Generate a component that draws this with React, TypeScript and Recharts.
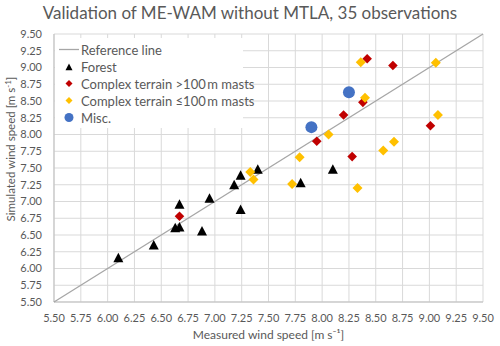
import { ScatterChart, Scatter, XAxis, YAxis, CartesianGrid, Legend, Label } from 'recharts';

type Pt = { x: number; y: number };

const ticks = [5.5, 5.75, 6, 6.25, 6.5, 6.75, 7, 7.25, 7.5, 7.75, 8, 8.25, 8.5, 8.75, 9, 9.25, 9.5];

const referenceLine: Pt[] = [
  { x: 5.5, y: 5.5 },
  { x: 9.5, y: 9.5 },
];

const forest: Pt[] = [
  { x: 6.1, y: 6.16 },
  { x: 6.43, y: 6.35 },
  { x: 6.63, y: 6.61 },
  { x: 6.67, y: 6.62 },
  { x: 6.67, y: 6.96 },
  { x: 6.88, y: 6.56 },
  { x: 6.95, y: 7.05 },
  { x: 7.18, y: 7.25 },
  { x: 7.24, y: 7.39 },
  { x: 7.24, y: 6.88 },
  { x: 7.4, y: 7.48 },
  { x: 7.8, y: 7.28 },
  { x: 8.1, y: 7.48 },
];

const tallMasts: Pt[] = [
  { x: 6.67, y: 6.78 },
  { x: 7.95, y: 7.9 },
  { x: 8.2, y: 8.29 },
  { x: 8.28, y: 7.67 },
  { x: 8.38, y: 8.48 },
  { x: 8.42, y: 9.13 },
  { x: 8.66, y: 9.03 },
  { x: 9.01, y: 8.13 },
];

const shortMasts: Pt[] = [
  { x: 7.33, y: 7.44 },
  { x: 7.36, y: 7.33 },
  { x: 7.72, y: 7.26 },
  { x: 7.79, y: 7.66 },
  { x: 8.06, y: 8.0 },
  { x: 8.33, y: 7.2 },
  { x: 8.36, y: 9.08 },
  { x: 8.4, y: 8.55 },
  { x: 8.57, y: 7.76 },
  { x: 8.67, y: 7.89 },
  { x: 9.06, y: 9.07 },
  { x: 9.08, y: 8.29 },
];

const misc: Pt[] = [
  { x: 7.9, y: 8.11 },
  { x: 8.25, y: 8.63 },
];

const FONT = 'Lato, "Open Sans", sans-serif';
const TEXT = '#595959';

const Triangle = ({ cx, cy, fill, s = 5 }: any) => (
  <polygon points={`${cx},${cy - s} ${cx + s},${cy + s * 0.9} ${cx - s},${cy + s * 0.9}`} fill={fill} />
);
const Diamond = ({ cx, cy, fill, s = 5 }: any) => (
  <polygon points={`${cx},${cy - s} ${cx + s},${cy} ${cx},${cy + s} ${cx - s},${cy}`} fill={fill} />
);
const Dot = ({ cx, cy, fill, s = 6 }: any) => <circle cx={cx} cy={cy} r={s} fill={fill} />;

const legendItems = [
  { label: 'Reference line', kind: 'line', color: '#a6a6a6' },
  { label: 'Forest', kind: 'triangle', color: '#000000' },
  { label: 'Complex terrain >100\u2009m masts', kind: 'diamond', color: '#c00000' },
  { label: 'Complex terrain \u2264100\u2009m masts', kind: 'diamond', color: '#ffc000' },
  { label: 'Misc.', kind: 'circle', color: '#4472c4' },
];

function LegendBox() {
  return (
    <div style={{ background: '#fff', padding: '3px 0 2px 0', fontFamily: FONT }}>
      {legendItems.map((it) => (
        <div key={it.label} style={{ display: 'flex', alignItems: 'center', height: 17 }}>
          <svg width={26} height={17} style={{ flex: 'none' }}>
            {it.kind === 'line' && <line x1={4} x2={24} y1={8.5} y2={8.5} stroke={it.color} strokeWidth={1.3} />}
            {it.kind === 'triangle' && <Triangle cx={14} cy={9} fill={it.color} s={3.5} />}
            {it.kind === 'diamond' && <Diamond cx={14} cy={8.5} fill={it.color} s={3.5} />}
            {it.kind === 'circle' && <Dot cx={14} cy={8.5} fill={it.color} s={4.5} />}
          </svg>
          <span style={{ fontSize: 13, color: TEXT, whiteSpace: 'nowrap' }}>{it.label}</span>
        </div>
      ))}
    </div>
  );
}

const YTitle = () => (
  <text
    transform="translate(15,149) rotate(-90)"
    textAnchor="middle"
    fill={TEXT}
    fontSize={11.5}
    fontFamily={FONT}
  >
    Simulated wind speed [m s<tspan fontSize={8} dy={-4}>-1</tspan>
    <tspan dy={4}>]</tspan>
  </text>
);

export default function App() {
  return (
    <div style={{ position: 'absolute', left: 0, top: 0, width: 500, height: 346, background: '#fff', fontFamily: FONT }}>
      <div
        style={{
          position: 'absolute',
          top: 2,
          left: 0,
          width: 500,
          textAlign: 'center',
          fontSize: 17,
          color: TEXT,
        }}
      >
        Validation of ME-WAM without MTLA, 35 observations
      </div>
      <ScatterChart width={500} height={346} margin={{ top: 34, right: 17, bottom: 22, left: 14 }}>
        <CartesianGrid stroke="#d9d9d9" strokeWidth={1} />
        <XAxis
          type="number"
          dataKey="x"
          domain={[5.5, 9.5]}
          ticks={ticks}
          interval={0}
          tickFormatter={(v: number) => v.toFixed(2)}
          tickLine={false}
          axisLine={{ stroke: '#bfbfbf' }}
          tick={{ fill: TEXT, fontSize: 11, fontFamily: FONT }}
          tickMargin={6}
          height={22}
          label={{
            value: 'Measured wind speed [m s\u207B\u00B9]',
            position: 'insideBottom',
            offset: -15,
            fill: TEXT,
            fontSize: 12,
            fontFamily: FONT,
          }}
        />
        <YAxis
          type="number"
          dataKey="y"
          domain={[5.5, 9.5]}
          ticks={ticks}
          interval={0}
          tickFormatter={(v: number) => v.toFixed(2)}
          tickLine={false}
          axisLine={{ stroke: '#bfbfbf' }}
          tick={{ fill: TEXT, fontSize: 11, fontFamily: FONT }}
          tickMargin={6}
          width={40}
        >
          <Label content={() => <YTitle />} />
        </YAxis>
        <Legend
          layout="vertical"
          align="center"
          verticalAlign="middle"
          wrapperStyle={{ left: 55, top: 38, width: 188 }}
          content={() => <LegendBox />}
        />
        <Scatter
          name="Reference line"
          data={referenceLine}
          line={{ stroke: '#a6a6a6', strokeWidth: 1.3 }}
          shape={() => null}
          isAnimationActive={false}
        />
        <Scatter name="Forest" data={forest} fill="#000000" shape={(p: any) => <Triangle {...p} s={5} />} isAnimationActive={false} />
        <Scatter name="Complex terrain >100 m masts" data={tallMasts} fill="#c00000" shape={(p: any) => <Diamond {...p} s={4.8} />} isAnimationActive={false} />
        <Scatter name="Complex terrain ≤100 m masts" data={shortMasts} fill="#ffc000" shape={(p: any) => <Diamond {...p} s={5} />} isAnimationActive={false} />
        <Scatter name="Misc." data={misc} fill="#4472c4" shape={(p: any) => <Dot {...p} s={6} />} isAnimationActive={false} />
      </ScatterChart>
    </div>
  );
}
